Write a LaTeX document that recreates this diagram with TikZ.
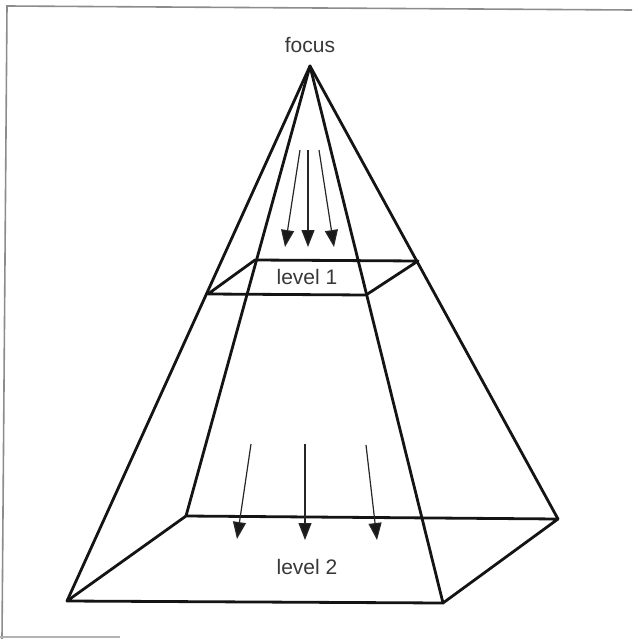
\documentclass[tikz,border=0pt]{standalone}
\usepackage{fontspec}
\setmainfont{Liberation Sans}
\usetikzlibrary{arrows.meta}
\begin{document}
\begin{tikzpicture}[x=1pt,y=-1pt,
  edge/.style={line width=2.8pt,line join=round,line cap=round,draw=black!92},
  flow/.style={line width=1.2pt,draw=black!85,-{Triangle[length=17pt,width=13pt,fill=black!90]}},
  lbl/.style={font=\fontsize{21}{25}\selectfont,text=black!78,inner sep=0pt},
  frame/.style={draw=black!45,line width=1.6pt}]
\useasboundingbox (0,0) rectangle (632,639);
\draw[frame] (2,639) -- (7,6) -- (632,10);
\draw[frame,black!30] (0,637) -- (120,637);
% apex
\coordinate (A) at (310,66);
% level 2 corners
\coordinate (BL) at (186,516);
\coordinate (BR) at (558,519);
\coordinate (FL) at (67,601);
\coordinate (FR) at (443,603);
% level 1 corners
\coordinate (bl) at (255,260);
\coordinate (br) at (418,261);
\coordinate (fl) at (208,294);
\coordinate (fr) at (366,295);
% pyramid edges
\draw[edge] (A) -- (BL);
\draw[edge] (A) -- (BR);
\draw[edge] (A) -- (FL);
\draw[edge] (A) -- (FR);
% level 1
\draw[edge] (bl) -- (br) -- (fr) -- (fl) -- cycle;
% level 2
\draw[edge] (BL) -- (BR) -- (FR) -- (FL) -- cycle;
% labels
\node[lbl] (focus) at (310,45) {focus};
\node[lbl] (lev1) at (307,277) {level 1};
\node[lbl] (lev2) at (307,567) {level 2};
% arrows level 1
\coordinate (a1s) at (300,150); \coordinate (a1e) at (285,247);
\coordinate (a2s) at (308,150); \coordinate (a2e) at (308,247);
\coordinate (a3s) at (319,150); \coordinate (a3e) at (334,247);
\draw[flow] (a1s) -- (a1e);
\draw[flow] (a2s) -- (a2e);
\draw[flow] (a3s) -- (a3e);
% arrows level 2
\coordinate (b1s) at (251,444); \coordinate (b1e) at (237,539);
\coordinate (b2s) at (305,444); \coordinate (b2e) at (305,540);
\coordinate (b3s) at (366,445); \coordinate (b3e) at (377,540);
\draw[flow] (b1s) -- (b1e);
\draw[flow] (b2s) -- (b2e);
\draw[flow] (b3s) -- (b3e);
\end{tikzpicture}
\end{document}
